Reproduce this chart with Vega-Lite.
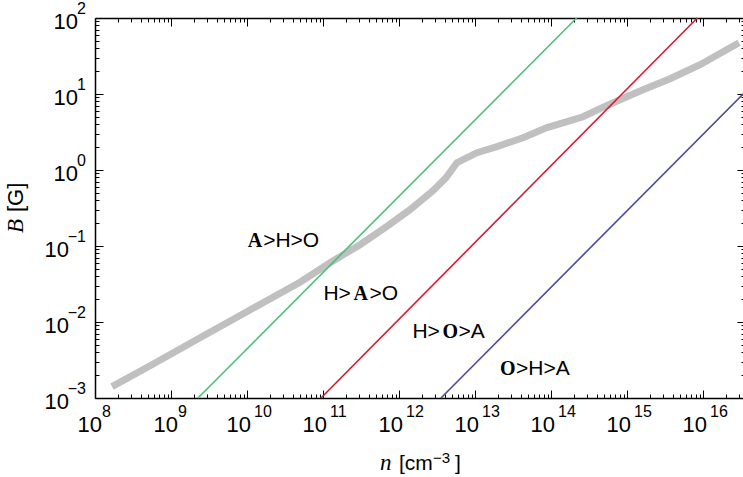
{
  "$schema": "https://vega.github.io/schema/vega-lite/v6.json",
  "width": 650,
  "height": 380,
  "autosize": "none",
  "padding": {"left": 95, "top": 18, "right": 0, "bottom": 79},
  "background": "white",
  "config": {"view": {"stroke": null}, "axis": {"grid": false}, "text": {"font": "Liberation Sans", "fontSize": 22, "color": "black", "baseline": "alphabetic"}},
  "datasets": {
    "curve": [
      {"n": 1.675e8, "B": 0.00141},
      {"n": 5.30e8, "B": 0.00266},
      {"n": 2.41e9, "B": 0.00621},
      {"n": 1.094e10, "B": 0.0144},
      {"n": 4.98e10, "B": 0.0334},
      {"n": 1.236e11, "B": 0.0603},
      {"n": 3.07e11, "B": 0.104},
      {"n": 7.16e11, "B": 0.185},
      {"n": 1.396e12, "B": 0.301},
      {"n": 2.80e12, "B": 0.535},
      {"n": 4.15e12, "B": 0.792},
      {"n": 5.79e12, "B": 1.247},
      {"n": 1.062e13, "B": 1.69},
      {"n": 1.945e13, "B": 2.03},
      {"n": 4.29e13, "B": 2.66},
      {"n": 8.85e13, "B": 3.61},
      {"n": 1.626e14, "B": 4.33},
      {"n": 2.64e14, "B": 5.02},
      {"n": 4.42e14, "B": 6.41},
      {"n": 8.09e14, "B": 8.41},
      {"n": 1.625e15, "B": 11.4},
      {"n": 3.68e15, "B": 15.9},
      {"n": 9.14e15, "B": 24.3},
      {"n": 2.98e16, "B": 47.3}
    ],
    "bounds": [
      {"line": "A=H", "n": 2.265e9, "B": 0.001},
      {"line": "A=H", "n": 2.17e14, "B": 100},
      {"line": "A=O", "n": 9.42e10, "B": 0.001},
      {"line": "A=O", "n": 8.41e15, "B": 100},
      {"line": "H=O", "n": 3.57e12, "B": 0.001},
      {"line": "H=O", "n": 3.57e16, "B": 10.6}
    ],
    "xticks": [
      {"n": 1e8, "e": "8"}, {"n": 1e9, "e": "9"}, {"n": 1e10, "e": "10"}, {"n": 1e11, "e": "11"},
      {"n": 1e12, "e": "12"}, {"n": 1e13, "e": "13"}, {"n": 1e14, "e": "14"}, {"n": 1e15, "e": "15"}, {"n": 1e16, "e": "16"}
    ],
    "yticks": [
      {"B": 0.001, "e": "−3"}, {"B": 0.01, "e": "−2"}, {"B": 0.1, "e": "−1"},
      {"B": 1, "e": "0"}, {"B": 10, "e": "1"}, {"B": 100, "e": "2"}
    ],
    "regions": [
      {"region": "A>H>O", "n": 1.02e10, "B": 0.098},
      {"region": "H>A>O", "n": 1.06e11, "B": 0.0196},
      {"region": "H>O>A", "n": 1.57e12, "B": 0.0062},
      {"region": "O>H>A", "n": 2.13e13, "B": 0.00203}
    ],
    "anchor": [{"n": 1e12, "B": 0.001, "ny": 1e8, "By": 0.3162}]
  },
  "resolve": {"axis": {"x": "independent", "y": "independent"}},
  "layer": [
    {
      "data": {"name": "curve"},
      "mark": {"type": "line", "color": "#c0c0c0", "strokeWidth": 7, "strokeCap": "butt", "strokeJoin": "miter"},
      "encoding": {
        "x": {"field": "n", "type": "quantitative", "scale": {"type": "log", "domain": [1e8, 3.57e16], "nice": false},
          "axis": {"orient": "bottom", "labels": false, "title": null, "domainColor": "black", "domainWidth": 1.5, "tickColor": "black", "tickWidth": 1,
            "tickSize": {"condition": {"test": "abs(log(datum.value)/LN10 - round(log(datum.value)/LN10)) < 0.001", "value": -8}, "value": -4},
            "values": [1e8,2e8,3e8,4e8,5e8,6e8,7e8,8e8,9e8,1e9,2e9,3e9,4e9,5e9,6e9,7e9,8e9,9e9,1e10,2e10,3e10,4e10,5e10,6e10,7e10,8e10,9e10,1e11,2e11,3e11,4e11,5e11,6e11,7e11,8e11,9e11,1e12,2e12,3e12,4e12,5e12,6e12,7e12,8e12,9e12,1e13,2e13,3e13,4e13,5e13,6e13,7e13,8e13,9e13,1e14,2e14,3e14,4e14,5e14,6e14,7e14,8e14,9e14,1e15,2e15,3e15,4e15,5e15,6e15,7e15,8e15,9e15,1e16,2e16,3e16]}},
        "y": {"field": "B", "type": "quantitative", "scale": {"type": "log", "domain": [0.001, 100], "nice": false},
          "axis": {"orient": "left", "labels": false, "title": null, "domainColor": "black", "domainWidth": 1.5, "tickColor": "black", "tickWidth": 1,
            "tickSize": {"condition": {"test": "abs(log(datum.value)/LN10 - round(log(datum.value)/LN10)) < 0.001", "value": -8}, "value": -4},
            "values": [0.001,0.002,0.003,0.004,0.005,0.006,0.007,0.008,0.009,0.01,0.02,0.03,0.04,0.05,0.06,0.07,0.08,0.09,0.1,0.2,0.3,0.4,0.5,0.6,0.7,0.8,0.9,1,2,3,4,5,6,7,8,9,10,20,30,40,50,60,70,80,90,100]}},
        "order": {"field": "n", "type": "quantitative"}
      }
    },
    {
      "data": {"name": "bounds"},
      "mark": {"type": "line", "strokeWidth": 1.6},
      "encoding": {
        "x": {"field": "n", "type": "quantitative", "scale": {"type": "log", "domain": [1e8, 3.57e16], "nice": false},
          "axis": {"orient": "top", "labels": false, "title": null, "domainColor": "black", "domainWidth": 1.5, "tickColor": "black", "tickWidth": 1,
            "tickSize": {"condition": {"test": "abs(log(datum.value)/LN10 - round(log(datum.value)/LN10)) < 0.001", "value": -8}, "value": -4},
            "values": [1e8,2e8,3e8,4e8,5e8,6e8,7e8,8e8,9e8,1e9,2e9,3e9,4e9,5e9,6e9,7e9,8e9,9e9,1e10,2e10,3e10,4e10,5e10,6e10,7e10,8e10,9e10,1e11,2e11,3e11,4e11,5e11,6e11,7e11,8e11,9e11,1e12,2e12,3e12,4e12,5e12,6e12,7e12,8e12,9e12,1e13,2e13,3e13,4e13,5e13,6e13,7e13,8e13,9e13,1e14,2e14,3e14,4e14,5e14,6e14,7e14,8e14,9e14,1e15,2e15,3e15,4e15,5e15,6e15,7e15,8e15,9e15,1e16,2e16,3e16]}},
        "y": {"field": "B", "type": "quantitative", "scale": {"type": "log", "domain": [0.001, 100], "nice": false},
          "axis": {"orient": "right", "labels": false, "title": null, "domainColor": "black", "domainWidth": 1.5, "tickColor": "black", "tickWidth": 1,
            "tickSize": {"condition": {"test": "abs(log(datum.value)/LN10 - round(log(datum.value)/LN10)) < 0.001", "value": -8}, "value": -4},
            "values": [0.001,0.002,0.003,0.004,0.005,0.006,0.007,0.008,0.009,0.01,0.02,0.03,0.04,0.05,0.06,0.07,0.08,0.09,0.1,0.2,0.3,0.4,0.5,0.6,0.7,0.8,0.9,1,2,3,4,5,6,7,8,9,10,20,30,40,50,60,70,80,90,100]}},
        "color": {"field": "line", "type": "nominal", "scale": {"domain": ["A=H", "A=O", "H=O"], "range": ["#4fbf77", "#d9182d", "#4d4a9e"]}, "legend": null},
        "order": {"field": "n", "type": "quantitative"}
      }
    },
    {
      "data": {"name": "xticks"},
      "transform": [{"filter": "datum.n < 1e10"}],
      "mark": {"type": "text", "text": "10", "fontSize": 22, "align": "right", "dx": 7, "dy": 34},
      "encoding": {
        "x": {"field": "n", "type": "quantitative", "scale": {"type": "log", "domain": [1e8, 3.57e16], "nice": false}, "axis": null},
        "y": {"datum": 0.001, "type": "quantitative", "scale": {"type": "log", "domain": [0.001, 100], "nice": false}, "axis": null}
      }
    },
    {
      "data": {"name": "xticks"},
      "transform": [{"filter": "datum.n >= 1e10"}],
      "mark": {"type": "text", "text": "10", "fontSize": 22, "align": "right", "dx": 4, "dy": 34},
      "encoding": {
        "x": {"field": "n", "type": "quantitative", "scale": {"type": "log", "domain": [1e8, 3.57e16], "nice": false}, "axis": null},
        "y": {"datum": 0.001, "type": "quantitative", "scale": {"type": "log", "domain": [0.001, 100], "nice": false}, "axis": null}
      }
    },
    {
      "data": {"name": "xticks"},
      "mark": {"type": "text", "align": "left", "dx": 7, "dy": 19, "fontSize": 16},
      "encoding": {
        "x": {"field": "n", "type": "quantitative", "scale": {"type": "log", "domain": [1e8, 3.57e16], "nice": false}, "axis": null},
        "y": {"datum": 0.001, "type": "quantitative", "scale": {"type": "log", "domain": [0.001, 100], "nice": false}, "axis": null},
        "text": {"field": "e"}
      }
    },
    {
      "data": {"name": "yticks"},
      "transform": [{"filter": "datum.B >= 1"}],
      "mark": {"type": "text", "text": "10", "fontSize": 22, "align": "right", "dx": -17, "dy": 11},
      "encoding": {
        "x": {"datum": 1e8, "type": "quantitative", "scale": {"type": "log", "domain": [1e8, 3.57e16], "nice": false}, "axis": null},
        "y": {"field": "B", "type": "quantitative", "scale": {"type": "log", "domain": [0.001, 100], "nice": false}, "axis": null}
      }
    },
    {
      "data": {"name": "yticks"},
      "transform": [{"filter": "datum.B < 1"}],
      "mark": {"type": "text", "text": "10", "fontSize": 22, "align": "right", "dx": -26, "dy": 11},
      "encoding": {
        "x": {"datum": 1e8, "type": "quantitative", "scale": {"type": "log", "domain": [1e8, 3.57e16], "nice": false}, "axis": null},
        "y": {"field": "B", "type": "quantitative", "scale": {"type": "log", "domain": [0.001, 100], "nice": false}, "axis": null}
      }
    },
    {
      "data": {"name": "yticks"},
      "mark": {"type": "text", "align": "right", "dx": -9, "dy": -4, "fontSize": 16},
      "encoding": {
        "x": {"datum": 1e8, "type": "quantitative", "scale": {"type": "log", "domain": [1e8, 3.57e16], "nice": false}, "axis": null},
        "y": {"field": "B", "type": "quantitative", "scale": {"type": "log", "domain": [0.001, 100], "nice": false}, "axis": null},
        "text": {"field": "e"}
      }
    },
    {
      "data": {"name": "anchor"},
      "mark": {"type": "text", "text": "B", "font": "Liberation Serif", "fontStyle": "italic", "fontSize": 23, "align": "left", "angle": 270, "dx": -25, "dy": -72},
      "encoding": {
        "x": {"field": "ny", "type": "quantitative", "scale": {"type": "log", "domain": [1e8, 3.57e16], "nice": false}, "axis": null},
        "y": {"field": "By", "type": "quantitative", "scale": {"type": "log", "domain": [0.001, 100], "nice": false}, "axis": null}
      }
    },
    {
      "data": {"name": "anchor"},
      "mark": {"type": "text", "text": "[G]", "fontSize": 22, "align": "left", "angle": 270, "dx": -4, "dy": -72},
      "encoding": {
        "x": {"field": "ny", "type": "quantitative", "scale": {"type": "log", "domain": [1e8, 3.57e16], "nice": false}, "axis": null},
        "y": {"field": "By", "type": "quantitative", "scale": {"type": "log", "domain": [0.001, 100], "nice": false}, "axis": null}
      }
    },
    {
      "data": {"name": "anchor"},
      "mark": {"type": "text", "text": "n", "font": "Liberation Serif", "fontStyle": "italic", "fontSize": 23, "align": "left", "dx": -19, "dy": 72},
      "encoding": {
        "x": {"field": "n", "type": "quantitative", "scale": {"type": "log", "domain": [1e8, 3.57e16], "nice": false}, "axis": null},
        "y": {"field": "B", "type": "quantitative", "scale": {"type": "log", "domain": [0.001, 100], "nice": false}, "axis": null}
      }
    },
    {
      "data": {"name": "anchor"},
      "mark": {"type": "text", "text": "[cm", "fontSize": 21, "align": "left", "dx": 0, "dy": 72},
      "encoding": {
        "x": {"field": "n", "type": "quantitative", "scale": {"type": "log", "domain": [1e8, 3.57e16], "nice": false}, "axis": null},
        "y": {"field": "B", "type": "quantitative", "scale": {"type": "log", "domain": [0.001, 100], "nice": false}, "axis": null}
      }
    },
    {
      "data": {"name": "anchor"},
      "mark": {"type": "text", "text": "−3", "fontSize": 15, "align": "left", "dx": 34, "dy": 65},
      "encoding": {
        "x": {"field": "n", "type": "quantitative", "scale": {"type": "log", "domain": [1e8, 3.57e16], "nice": false}, "axis": null},
        "y": {"field": "B", "type": "quantitative", "scale": {"type": "log", "domain": [0.001, 100], "nice": false}, "axis": null}
      }
    },
    {
      "data": {"name": "anchor"},
      "mark": {"type": "text", "text": "]", "fontSize": 21, "align": "left", "dx": 56, "dy": 72},
      "encoding": {
        "x": {"field": "n", "type": "quantitative", "scale": {"type": "log", "domain": [1e8, 3.57e16], "nice": false}, "axis": null},
        "y": {"field": "B", "type": "quantitative", "scale": {"type": "log", "domain": [0.001, 100], "nice": false}, "axis": null}
      }
    },
    {
      "data": {"name": "regions"},
      "transform": [{"filter": "datum.region == 'A>H>O'"}],
      "layer": [
        {"mark": {"type": "text", "text": "A", "font": "Liberation Serif", "fontWeight": "bold", "fontSize": 20, "align": "left", "dx": 0}},
        {"mark": {"type": "text", "text": ">H>O", "fontSize": 21, "align": "left", "dx": 15.5}}
      ],
      "encoding": {
        "x": {"field": "n", "type": "quantitative", "scale": {"type": "log", "domain": [1e8, 3.57e16], "nice": false}, "axis": null},
        "y": {"field": "B", "type": "quantitative", "scale": {"type": "log", "domain": [0.001, 100], "nice": false}, "axis": null}
      }
    },
    {
      "data": {"name": "regions"},
      "transform": [{"filter": "datum.region == 'H>A>O'"}],
      "layer": [
        {"mark": {"type": "text", "text": "H>", "fontSize": 21, "align": "left", "dx": -1.5}},
        {"mark": {"type": "text", "text": "A", "font": "Liberation Serif", "fontWeight": "bold", "fontSize": 20, "align": "left", "dx": 28.5}},
        {"mark": {"type": "text", "text": ">O", "fontSize": 21, "align": "left", "dx": 44.5}}
      ],
      "encoding": {
        "x": {"field": "n", "type": "quantitative", "scale": {"type": "log", "domain": [1e8, 3.57e16], "nice": false}, "axis": null},
        "y": {"field": "B", "type": "quantitative", "scale": {"type": "log", "domain": [0.001, 100], "nice": false}, "axis": null}
      }
    },
    {
      "data": {"name": "regions"},
      "transform": [{"filter": "datum.region == 'H>O>A'"}],
      "layer": [
        {"mark": {"type": "text", "text": "H>", "fontSize": 21, "align": "left", "dx": -1.5}},
        {"mark": {"type": "text", "text": "O", "font": "Liberation Serif", "fontWeight": "bold", "fontSize": 20, "align": "left", "dx": 28.5}},
        {"mark": {"type": "text", "text": ">A", "fontSize": 21, "align": "left", "dx": 44.5}}
      ],
      "encoding": {
        "x": {"field": "n", "type": "quantitative", "scale": {"type": "log", "domain": [1e8, 3.57e16], "nice": false}, "axis": null},
        "y": {"field": "B", "type": "quantitative", "scale": {"type": "log", "domain": [0.001, 100], "nice": false}, "axis": null}
      }
    },
    {
      "data": {"name": "regions"},
      "transform": [{"filter": "datum.region == 'O>H>A'"}],
      "layer": [
        {"mark": {"type": "text", "text": "O", "font": "Liberation Serif", "fontWeight": "bold", "fontSize": 20, "align": "left", "dx": 0}},
        {"mark": {"type": "text", "text": ">H>A", "fontSize": 21, "align": "left", "dx": 16}}
      ],
      "encoding": {
        "x": {"field": "n", "type": "quantitative", "scale": {"type": "log", "domain": [1e8, 3.57e16], "nice": false}, "axis": null},
        "y": {"field": "B", "type": "quantitative", "scale": {"type": "log", "domain": [0.001, 100], "nice": false}, "axis": null}
      }
    }
  ]
}
